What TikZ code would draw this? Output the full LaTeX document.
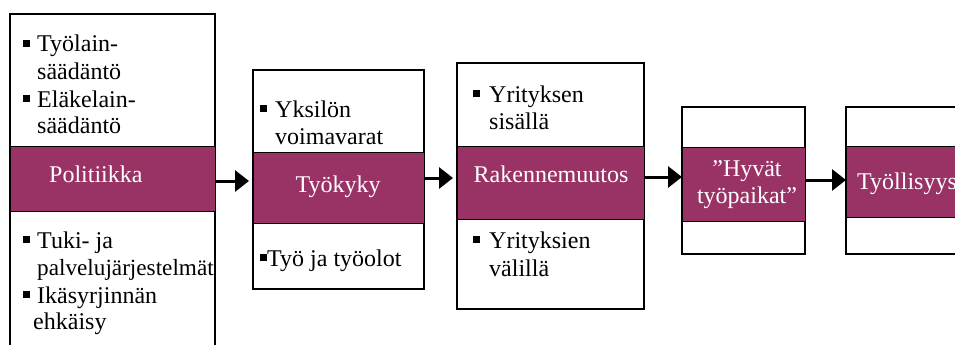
\documentclass[tikz,border=0pt]{standalone}
\usepackage{fontspec}
\setmainfont{Liberation Serif}
\usetikzlibrary{arrows.meta}
\definecolor{plum}{HTML}{993366}
\tikzset{
  frame/.style={draw=black, line width=1.2pt, fill=white},
  band/.style={draw=black, line width=1.2pt, fill=plum, inner sep=0pt, anchor=north west},
  txt/.style={anchor=base west, inner sep=0pt, font=\fontsize{24}{28}\selectfont},
  wtxt/.style={anchor=base, inner sep=0pt, text=white, font=\fontsize{24}{28}\selectfont},
  arr/.style={line width=3pt, -{Triangle[length=14pt,width=21pt]}},
}
\newcommand{\bul}{\rule[5pt]{7pt}{7pt}}
\begin{document}
\begin{tikzpicture}[x=1pt,y=-1pt]
\useasboundingbox (0,0) rectangle (955,345);
\clip (0,0) rectangle (955,345);
% frames
\draw[frame] (10,14) rectangle (215,360);
\draw[frame] (253,70) rectangle (424,289);
\draw[frame] (457,63) rectangle (644,309);
\draw[frame] (682,107) rectangle (805,254);
\draw[frame] (846,107) rectangle (990,254);
% bands
\node[band, minimum width=205pt, minimum height=65pt] (b1) at (10,146) {};
\node[band, minimum width=171pt, minimum height=71pt] (b2) at (253,152) {};
\node[band, minimum width=187pt, minimum height=73pt] (b3) at (457,146) {};
\node[band, minimum width=123pt, minimum height=74pt] (b4) at (682,147) {};
\node[band, minimum width=144pt, minimum height=71pt] (b5) at (846,146) {};
% band labels
\node[wtxt, anchor=base west] (l1) at (49,182) {Politiikka};
\node[wtxt] (l2) at (338,192) {Työkyky};
\node[wtxt] (l3) at (551,182) {Rakennemuutos};
\node[wtxt] (l4a) at (747,176) {”Hyvät};
\node[wtxt] (l4b) at (747,203) {työpaikat”};
\node[wtxt, anchor=base west] (l5) at (857,189) {Työllisyys};
% box 1 texts
\node[txt] (p1) at (23,52) {\bul};
\node[txt] (t1) at (37,52) {Työlain-};
\node[txt] (t2) at (37,79) {säädäntö};
\node[txt] (p2) at (23,107) {\bul};
\node[txt] (t3) at (37,107) {Eläkelain-};
\node[txt] (t4) at (37,133) {säädäntö};
\node[txt] (p3) at (23,248) {\bul};
\node[txt] (t5) at (37,248) {Tuki- ja};
\node[txt, font=\fontsize{23.2}{28}\selectfont] (t6) at (37,275) {palvelujärjestelmät};
\node[txt] (p4) at (23,303) {\bul};
\node[txt] (t7) at (37,303) {Ikäsyrjinnän};
\node[txt] (t8) at (33,329) {ehkäisy};
% box 2 texts
\node[txt] (p5) at (260,117) {\bul};
\node[txt] (u1) at (275,117) {Yksilön};
\node[txt] (u2) at (275,144) {voimavarat};
\node[txt] (p6) at (260,266) {\bul};
\node[txt] (u3) at (267,266) {Työ ja työolot};
% box 3 texts
\node[txt] (p7) at (473,102) {\bul};
\node[txt] (v1) at (489,102) {Yrityksen};
\node[txt] (v2) at (489,129) {sisällä};
\node[txt] (p8) at (473,248) {\bul};
\node[txt] (v3) at (489,248) {Yrityksien};
\node[txt] (v4) at (489,276) {välillä};
% arrows
\draw[arr, shorten >=4pt] (b1.east |- 0,181) -- (b2.west |- 0,181);
\draw[arr, shorten >=4pt] (b2.east |- 0,178) -- (b3.west |- 0,178);
\draw[arr] (b3.east |- 0,177) -- (b4.west |- 0,177);
\draw[arr] (b4.east |- 0,180) -- (b5.west |- 0,180);
\end{tikzpicture}
\end{document}
